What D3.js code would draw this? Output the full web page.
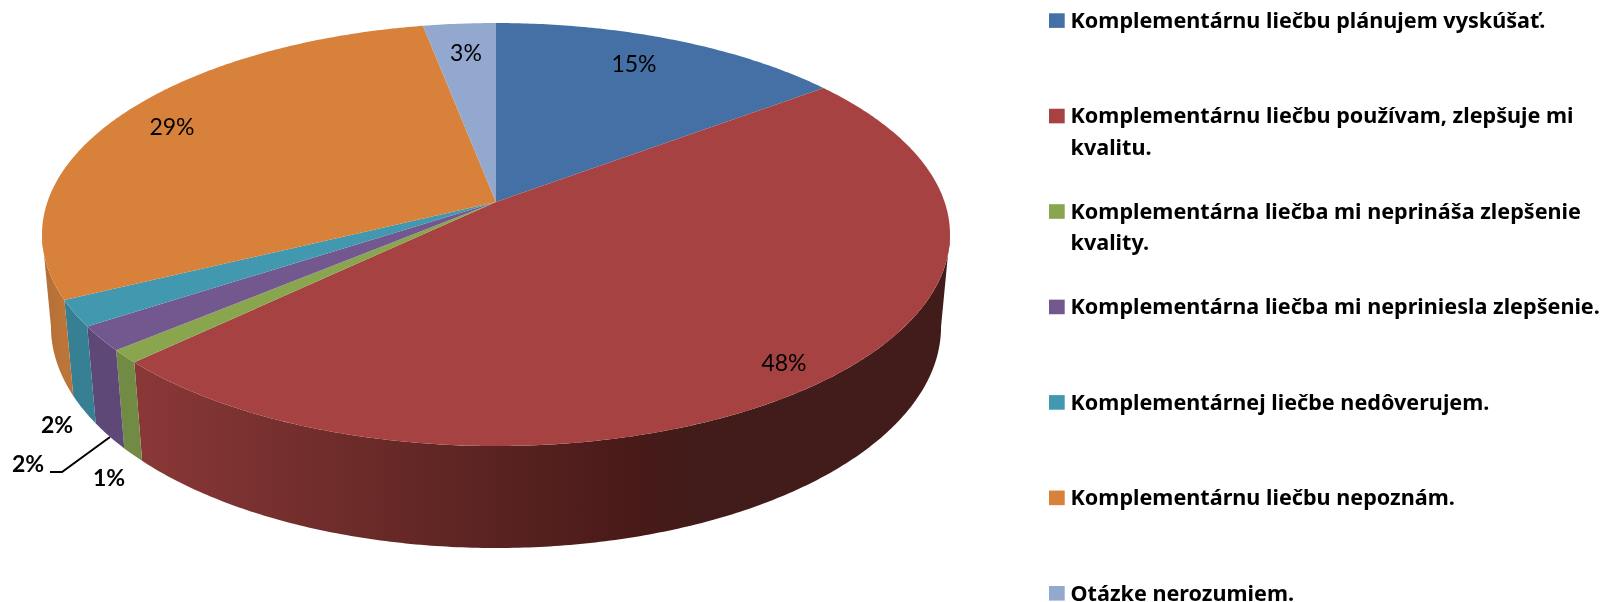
<!DOCTYPE html>
<html><head><meta charset="utf-8">
<script src="https://cdn.jsdelivr.net/npm/d3@7/dist/d3.min.js"></script>
<style>html,body{margin:0;padding:0;background:#fff;overflow:hidden}svg{display:block}</style>
</head><body>
<svg id="c" width="1615" height="602"></svg>
<script>
const categories = [
  "Komplementárnu liečbu plánujem vyskúšať.",
  "Komplementárnu liečbu používam, zlepšuje mi kvalitu.",
  "Komplementárna liečba mi neprináša zlepšenie kvality.",
  "Komplementárna liečba mi nepriniesla zlepšenie.",
  "Komplementárnej liečbe nedôverujem.",
  "Komplementárnu liečbu nepoznám.",
  "Otázke nerozumiem."
];
const values = [14.7, 48.1, 1.0, 1.9, 2.0, 29.3, 3.0];
const legendLines = [
  ["Komplementárnu liečbu plánujem vyskúšať."],
  ["Komplementárnu liečbu používam, zlepšuje mi", "kvalitu."],
  ["Komplementárna liečba mi neprináša zlepšenie", "kvality."],
  ["Komplementárna liečba mi nepriniesla zlepšenie."],
  ["Komplementárnej liečbe nedôverujem."],
  ["Komplementárnu liečbu nepoznám."],
  ["Otázke nerozumiem."]
];
const topColors = ["#4570a5","#a64342","#89a54e","#735890","#4198af","#d8813b","#92a8cf"];
const sideStops = [
  [["#36597f",0],["#36597f",1]],
  [["#8a3837",0],["#6b2b29",.375],["#5c2422",.573],["#481a18",.837],["#421c1a",.93],["#421c1a",1]],
  [["#718a44",0],["#718a44",1]],
  [["#5d4878",0],["#5d4878",1]],
  [["#377f93",0],["#377f93",1]],
  [["#b46f36",0],["#bc7538",1]],
  [["#7c8fb0",0],["#7c8fb0",1]]
];
const labelX = [634, 784, 109, 28, 57, 172, 466];
const labelY = [72, 371, 486, 472, 433, 135, 61];
const labelBold = [false,false,true,true,true,false,false];

const svg = d3.select("#c");
const cx = 496, cy = 202, rX = 448.6, rA = 206.5, pC = -0.1537, depthF = 93.1, depthE = 0.0196;
const frontStart = 98.6 * Math.PI / 180, frontEnd = 261.4 * Math.PI / 180;

function project(theta, z) {
  const u = Math.sin(theta), v = -Math.cos(theta);
  const w = 1 + pC * v + depthE * z;
  return [cx + rX * u / w, cy + (rA * v + depthF * z) / w];
}
const pie = d3.pie().sort(null).value(d => d)(values);
const line = d3.line();
function arcPts(a, b, z) {
  const n = Math.max(2, Math.ceil((b - a) / 0.01));
  return d3.range(n + 1).map(i => project(a + (b - a) * i / n, z));
}
const defs = svg.append("defs");
defs.append("filter").attr("id","soft").attr("x","-5%").attr("y","-20%").attr("width","110%").attr("height","140%")
  .append("feGaussianBlur").attr("stdDeviation",0.45);

const front = pie.map((d,i) => ({i, a: Math.max(d.startAngle, frontStart), b: Math.min(d.endAngle, frontEnd)}))
  .filter(s => s.b > s.a);
front.forEach(s => {
  const ext = d3.extent(arcPts(s.a, s.b, 0), p => p[0]);
  const g = defs.append("linearGradient").attr("id","s"+s.i).attr("gradientUnits","userSpaceOnUse")
    .attr("x1", ext[0]).attr("x2", s.i===1 ? ext[0]+600 : ext[1]).attr("y1",0).attr("y2",0);
  sideStops[s.i].forEach(t => g.append("stop").attr("offset", t[1]).attr("stop-color", t[0]));
});
// side walls
svg.append("g").selectAll("path").data(front).join("path")
  .attr("d", s => line(arcPts(s.a,s.b,0).concat(arcPts(s.a,s.b,1).reverse()))+"Z")
  .attr("fill",s=>`url(#s${s.i})`);
// top faces
svg.append("g").selectAll("path").data(pie).join("path")
  .attr("d", d => line([[cx,cy]].concat(arcPts(d.startAngle,d.endAngle,0)))+"Z")
  .attr("fill",(d,i)=>topColors[i]);

// leader
svg.append("path").attr("d", line([[50,472],[62,472],[110,437]])).attr("fill","none").attr("stroke","#000").attr("stroke-width",2);

// data labels
svg.append("g").attr("filter","url(#soft)").selectAll("text").data(values).join("text")
  .attr("x",(d,i)=>labelX[i]).attr("y",(d,i)=>labelY[i])
  .attr("text-anchor","middle").attr("font-family","Lato, 'Open Sans', sans-serif")
  .attr("font-size",23).attr("font-weight",(d,i)=>labelBold[i]?700:400)
  .attr("fill","#000").text(d=>Math.round(d)+"%");

// legend
const ly = d3.scalePoint().domain(categories).range([13.3,586]);
const lg = svg.append("g").selectAll("g").data(categories).join("g")
  .attr("transform",d=>`translate(1049,${ly(d)})`);
lg.append("rect").attr("width",15.7).attr("height",14.6).attr("fill",(d,i)=>topColors[i]);
lg.each(function(d,i){
  d3.select(this).selectAll("text").data(legendLines[i]).join("text")
    .attr("x",21.5).attr("y",(t,k)=>14.7+k*31.5)
    .attr("filter","url(#soft)")
    .attr("font-family","'Noto Sans', sans-serif").attr("font-weight",700).attr("font-size",21.6)
    .attr("fill","#000").text(t=>t);
});
</script>
</body></html>
